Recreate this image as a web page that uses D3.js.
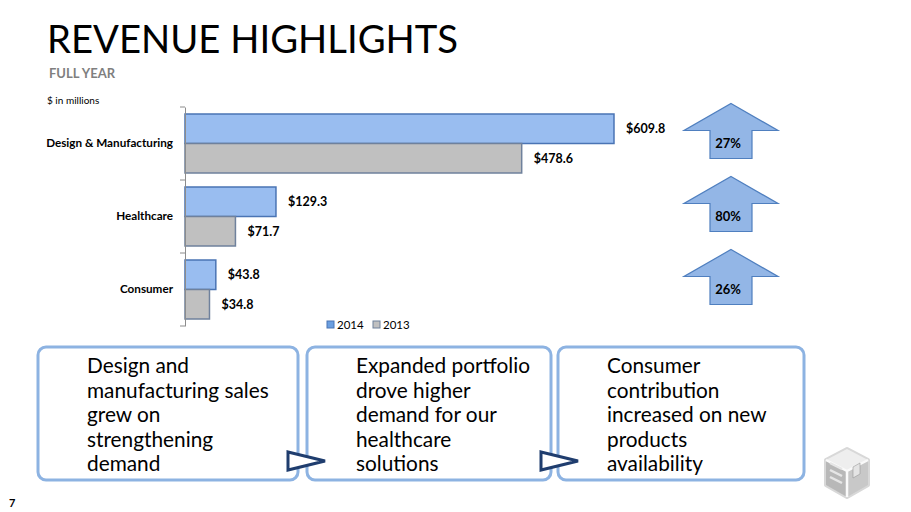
<!DOCTYPE html>
<html><head><meta charset="utf-8">
<script src="https://cdn.jsdelivr.net/npm/d3@7"></script>
<style>
html,body{margin:0;padding:0;background:#fff;}
svg{display:block;}
text{font-family:Lato,"Open Sans",sans-serif;}
</style></head>
<body>
<svg id="c" width="911" height="512"></svg>
<script>
const categories = ["Design & Manufacturing", "Healthcare", "Consumer"];
const years = ["2014", "2013"];
const values2014 = [609.8, 129.3, 43.8];
const values2013 = [478.6, 71.7, 34.8];
const growth = ["27%", "80%", "26%"];
const notes = [
  ["Design and", "manufacturing sales", "grew on", "strengthening", "demand"],
  ["Expanded portfolio", "drove higher", "demand for our", "healthcare", "solutions"],
  ["Consumer", "contribution", "increased on new", "products", "availability"]
];

const svg = d3.select("#c");
const fill = {"2014": "#99bdf0", "2013": "#c0c0c0"};
const stroke = {"2014": "#4a74b4", "2013": "#6f819c"};
const legendFill = {"2014": "#6b9fe0", "2013": "#c0c0c0"};

// Titles
svg.append("text").attr("x", 47).attr("y", 53).attr("font-size", 39)
  .attr("fill", "#000").text("REVENUE HIGHLIGHTS")
  .attr("textLength", 411).attr("lengthAdjust", "spacingAndGlyphs");
svg.append("text").attr("x", 49).attr("y", 78).attr("font-size", 13).attr("font-weight", "bold")
  .attr("fill", "#7f7f7f").text("FULL YEAR");
svg.append("text").attr("x", 47).attr("y", 104).attr("font-size", 10).attr("fill", "#000").text("$ in millions");
svg.append("text").attr("x", 9).attr("y", 507).attr("font-size", 11).attr("font-weight", "bold").text("7");

// Scales
const x = d3.scaleLinear().domain([0, 700]).range([185, 185 + 700 * 0.7035]);
const y0 = d3.scaleBand().domain(categories).range([107, 326]).padding(0);
const y1 = d3.scaleBand().domain(years).range([7, y0.bandwidth() - 7]).padding(0);

const data = categories.map((c, i) => ({cat: c, vals: [{year: "2014", v: values2014[i]}, {year: "2013", v: values2013[i]}]}));

const g = svg.append("g");
const groups = g.selectAll(".cat").data(data).join("g").attr("transform", d => `translate(0,${y0(d.cat)})`);
groups.selectAll("rect").data(d => d.vals).join("rect")
  .attr("x", x(0)).attr("y", d => y1(d.year)).attr("width", d => x(d.v) - x(0)).attr("height", y1.bandwidth())
  .attr("fill", d => fill[d.year]).attr("stroke", d => stroke[d.year]).attr("stroke-width", 1.5);
groups.selectAll("text.val").data(d => d.vals).join("text").attr("class", "val")
  .attr("x", d => x(d.v) + 12).attr("y", d => y1(d.year) + y1.bandwidth() / 2)
  .attr("dy", "0.35em").attr("font-size", 12.5).attr("font-weight", "bold").attr("fill", "#000")
  .text(d => "$" + d3.format(".1f")(d.v));

// Axis
const axis = d3.axisLeft(y0).tickSize(0).tickPadding(12);
const ax = svg.append("g").attr("transform", `translate(${x(0)},0)`).call(axis);
ax.select(".domain").attr("stroke", "#8c8c8c").attr("stroke-width", 1);
ax.selectAll(".tick text").attr("font-size", 11.7).attr("font-weight", "bold").attr("fill", "#000")
  .attr("font-family", "Lato, sans-serif");
const edges = categories.map(c => y0(c)).concat([y0.range()[1]]);
ax.selectAll(".edge").data(edges).join("line").attr("class", "edge")
  .attr("x1", -5).attr("x2", 0).attr("y1", d => d).attr("y2", d => d).attr("stroke", "#8c8c8c");

// Legend
const lg = svg.append("g").attr("transform", "translate(327,325)");
const li = lg.selectAll("g").data(years).join("g").attr("transform", (d, i) => `translate(${i * 46},0)`);
li.append("rect").attr("x", 0).attr("y", -4).attr("width", 7).attr("height", 7)
  .attr("fill", d => legendFill[d]).attr("stroke", d => stroke[d]).attr("stroke-width", 1);
li.append("text").attr("x", 10).attr("y", 0).attr("dy", "0.35em").attr("font-size", 11.5).text(d => d);

// Growth arrows
const ax0 = 731, wHalf = 47, sHalf = 21;
const arr = svg.append("g").selectAll("g").data(categories).join("g")
  .attr("transform", d => `translate(${ax0},${y0(d) + y0.bandwidth() / 2})`);
arr.append("path")
  .attr("d", `M0,-40 L${wHalf},-13 L${sHalf},-13 L${sHalf},15 L${-sHalf},15 L${-sHalf},-13 L${-wHalf},-13 Z`)
  .attr("fill", "#93b6e6").attr("stroke", "#4f7fbf").attr("stroke-width", 1.2);
arr.append("text").attr("x", -3).attr("y", 0).attr("dy", "0.35em").attr("text-anchor", "middle")
  .attr("font-size", 13).attr("font-weight", "bold").text((d, i) => growth[i]);

// Note boxes
const boxX = [38, 307, 558];
const boxW = [260, 244, 246];
const boxes = svg.append("g").selectAll("g").data(notes).join("g")
  .attr("transform", (d, i) => `translate(${boxX[i]},347)`);
boxes.append("rect").attr("width", (d, i) => boxW[i]).attr("height", 133).attr("rx", 8)
  .attr("fill", "#fff").attr("stroke", "#8db3e2").attr("stroke-width", 3);
boxes.each(function (lines, i) {
  const t = d3.select(this).append("text").attr("font-size", 20.8).attr("fill", "#000");
  lines.forEach((l, k) => t.append("tspan").attr("x", 49).attr("y", 26 + k * 24.5).text(l));
});

// connector triangles
svg.append("g").selectAll("path").data([0, 1]).join("path")
  .attr("transform", d => `translate(${boxX[d] + boxW[d] - 10},461)`)
  .attr("d", "M0,-9 L37,0 L0,9 Z").attr("fill", "#fff").attr("stroke", "#1f3d6e").attr("stroke-width", 3)
  .attr("stroke-linejoin", "miter");

// Logo (3D cube approximation)
const logo = svg.append("g").attr("transform", "translate(847,473)");
const defs = svg.append("defs");
const lgrad = defs.append("linearGradient").attr("id", "lg").attr("x1", 0).attr("y1", 0).attr("x2", 0).attr("y2", 1);
lgrad.append("stop").attr("offset", 0).attr("stop-color", "#e8e8e8");
lgrad.append("stop").attr("offset", 1).attr("stop-color", "#a8a8a8");
logo.append("path").attr("d", "M0,-24 L21,-13 L21,12 L0,24 L-21,12 L-21,-13 Z")
  .attr("fill", "url(#lg)").attr("stroke", "#d8d8d8").attr("stroke-width", 4).attr("stroke-linejoin", "round");
logo.append("path").attr("d", "M0,-24 L21,-13 L0,-2 L-21,-13 Z").attr("fill", "#eeeeee");
logo.append("path").attr("d", "M0,-2 L21,-13 L21,12 L0,24 Z").attr("fill", "#c8c8c8");
logo.append("path").attr("d", "M0,-2 L-21,-13 L-21,12 L0,24 Z").attr("fill", "#b8b8b8");
logo.append("path").attr("d", "M0,-2 L0,24 M0,-2 L21,-13 M0,-2 L-21,-13").attr("stroke", "#fafafa").attr("stroke-width", 2.5).attr("fill", "none");
logo.selectAll(".s").data([-6, 1, 8]).join("path").attr("class", "s")
  .attr("d", d => `M-17,${d - 4} L-5,${d + 2}`).attr("stroke", "#e6e6e6").attr("stroke-width", 2.5);
logo.append("path").attr("d", "M6,-6 L13,-10 L13,1 L6,5 Z").attr("fill", "#e4e4e4").attr("stroke", "#999").attr("stroke-width", 0.6);
</script>
</body></html>
